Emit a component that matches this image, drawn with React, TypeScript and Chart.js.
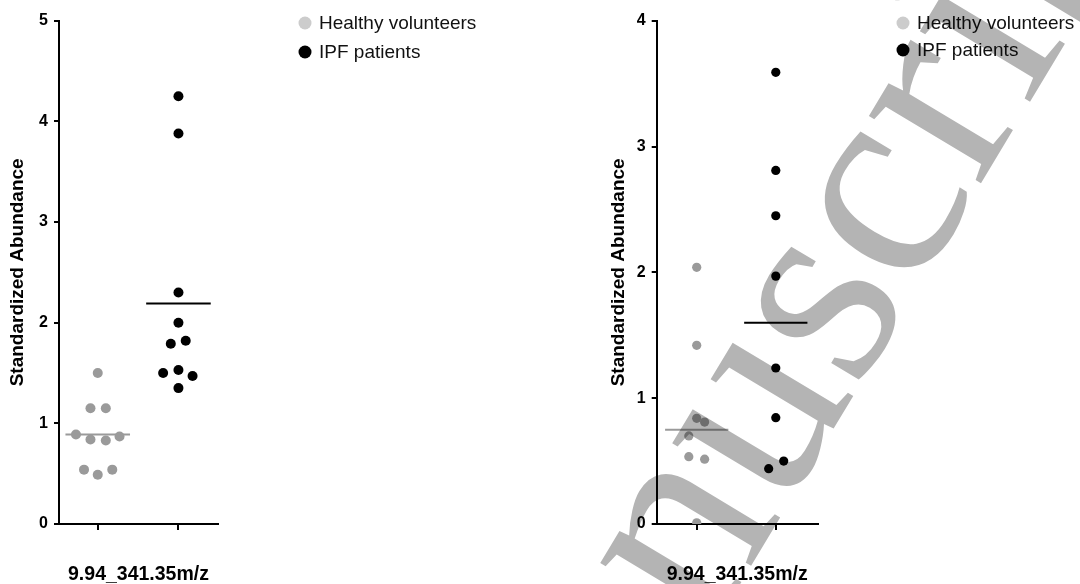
import React, { useEffect, useRef } from "react";
import { Chart, registerables } from "chart.js";
Chart.register(...registerables);

// ---------- data ----------
const groupLabels = ["Healthy volunteers", "IPF patients"];
const xAxisTitle = "9.94_341.35m/z";
const yAxisTitle = "Standardized Abundance";
const watermarkText = "Accepted Manuscript";

// left panel
const leftYMax = 5;
const leftHealthy = [1.5, 1.15, 1.15, 0.89, 0.84, 0.83, 0.87, 0.54, 0.49, 0.54];
const leftHealthyJitter = [0, -0.09, 0.1, -0.27, -0.09, 0.1, 0.27, -0.17, 0, 0.18];
const leftIPF = [4.25, 3.88, 2.3, 2.0, 1.79, 1.82, 1.5, 1.53, 1.47, 1.35];
const leftIPFJitter = [0, 0, 0, 0, -0.095, 0.09, -0.19, 0, 0.175, 0];
const leftMeans = [0.89, 2.19];

// right panel
const rightYMax = 4;
const rightHealthy = [2.04, 1.42, 0.84, 0.81, 0.7, 0.535, 0.515, 0.01];
const rightHealthyJitter = [0, 0, 0, 0.1, -0.1, -0.1, 0.1, 0];
const rightIPF = [3.59, 2.81, 2.45, 1.97, 1.24, 0.845, 0.44, 0.5];
const rightIPFJitter = [0, 0, 0, 0, 0, 0, -0.09, 0.1];
const rightMeans = [0.75, 1.6];

const FONT = '"Liberation Sans", Arial, sans-serif';
const healthyColor = "#9a9a9a";
const healthyLegendColor = "#cccccc";
const ipfColor = "#000000";

type Panel = {
  yMax: number;
  healthy: number[];
  healthyJitter: number[];
  ipf: number[];
  ipfJitter: number[];
  means: number[];
  xMin: number;
  xMax: number;
  padLeft: number;
  padRight: number;
  titlePad: number;
  pointRadius: number;
  legendX: number;
  legendY: number[];
  watermark: boolean;
};

function buildChart(canvas: HTMLCanvasElement, p: Panel) {
  const pts = (vals: number[], jit: number[], g: number) =>
    vals.map((v, i) => ({ x: g + jit[i], y: v }));
  const meanLine = (m: number, g: number) => [
    { x: g - 0.4, y: m },
    { x: g + 0.4, y: m },
  ];

  const overlay = {
    id: "overlay",
    afterDraw(chart: any) {
      const ctx = chart.ctx as CanvasRenderingContext2D;
      ctx.save();
      // legend
      const colors = [healthyLegendColor, ipfColor];
      ctx.font = `19px ${FONT}`;
      ctx.textBaseline = "middle";
      ctx.textAlign = "left";
      groupLabels.forEach((lab, i) => {
        ctx.beginPath();
        ctx.fillStyle = colors[i];
        ctx.arc(p.legendX, p.legendY[i], 6.5, 0, Math.PI * 2);
        ctx.fill();
        ctx.fillStyle = "#111";
        ctx.fillText(lab, p.legendX + 14, p.legendY[i] + 1);
      });
      ctx.restore();
      if (p.watermark) {
        ctx.save();
        ctx.globalCompositeOperation = "multiply";
        ctx.fillStyle = "#b4b4b4";
        ctx.font = `285px "Liberation Serif", "DejaVu Serif", serif`;
        ctx.textBaseline = "alphabetic";
        const w0 = ctx.measureText("Accepted Ma").width;
        ctx.translate(709 - 540, 636);
        ctx.rotate((-59 * Math.PI) / 180);
        ctx.fillText(watermarkText, -w0, 0);
        ctx.restore();
      }
    },
  };

  return new Chart(canvas, {
    type: "scatter",
    data: {
      datasets: [
        {
          label: groupLabels[0],
          data: pts(p.healthy, p.healthyJitter, 1),
          backgroundColor: healthyColor,
          borderColor: healthyColor,
          pointRadius: p.pointRadius,
          pointBorderWidth: 0,
          pointHoverRadius: p.pointRadius,
        },
        {
          label: groupLabels[1],
          data: pts(p.ipf, p.ipfJitter, 2),
          backgroundColor: ipfColor,
          borderColor: ipfColor,
          pointRadius: p.pointRadius,
          pointBorderWidth: 0,
          pointHoverRadius: p.pointRadius,
        },
        {
          type: "line",
          label: "mean healthy",
          data: meanLine(p.means[0], 1),
          borderColor: healthyColor,
          borderWidth: 2,
          pointRadius: 0,
          showLine: true,
          fill: false,
        } as any,
        {
          type: "line",
          label: "mean ipf",
          data: meanLine(p.means[1], 2),
          borderColor: ipfColor,
          borderWidth: 2,
          pointRadius: 0,
          showLine: true,
          fill: false,
        } as any,
      ],
    },
    options: {
      animation: false,
      responsive: false,
      events: [],
      layout: { padding: { left: p.padLeft, right: p.padRight, top: 20.7, bottom: 0 } },
      plugins: { legend: { display: false }, tooltip: { enabled: false } },
      scales: {
        x: {
          type: "linear",
          min: p.xMin,
          max: p.xMax,
          afterBuildTicks: (s: any) => {
            s.ticks = [{ value: 1 }, { value: 2 }];
          },
          afterFit: (s: any) => {
            s.height = 60;
          },
          ticks: { display: false },
          grid: { drawOnChartArea: false, drawTicks: true, tickLength: 6, color: "#000", lineWidth: 2 },
          border: { display: true, color: "#000", width: 2 },
          title: {
            display: true,
            text: xAxisTitle,
            color: "#000",
            font: { family: FONT, size: 19.5, weight: "bold", lineHeight: 1 },
            padding: { top: 0, bottom: 0 },
          },
        },
        y: {
          type: "linear",
          min: 0,
          max: p.yMax,
          afterFit: (s: any) => {
            s.width = 59;
          },
          ticks: { stepSize: 1, color: "#000", font: { family: FONT, size: 16, weight: "bold" }, padding: 6 },
          grid: { drawOnChartArea: false, drawTicks: true, tickLength: 5, color: "#000", lineWidth: 2 },
          border: { display: true, color: "#000", width: 2 },
          title: {
            display: true,
            text: yAxisTitle,
            color: "#000",
            font: { family: FONT, size: 19, weight: "bold", lineHeight: 1 },
            padding: { top: p.titlePad, bottom: 0 },
          },
        },
      },
    },
    plugins: [overlay],
  } as any);
}

const leftPanel: Panel = {
  yMax: leftYMax,
  healthy: leftHealthy,
  healthyJitter: leftHealthyJitter,
  ipf: leftIPF,
  ipfJitter: leftIPFJitter,
  means: leftMeans,
  xMin: 0.52,
  xMax: 2.49,
  padLeft: 0,
  padRight: 322,
  titlePad: 8,
  pointRadius: 5,
  legendX: 305,
  legendY: [23, 52],
  watermark: false,
};

const rightPanel: Panel = {
  yMax: rightYMax,
  healthy: rightHealthy,
  healthyJitter: rightHealthyJitter,
  ipf: rightIPF,
  ipfJitter: rightIPFJitter,
  means: rightMeans,
  xMin: 0.494,
  xMax: 2.53,
  padLeft: 57.7,
  padRight: 262.3,
  titlePad: 12,
  pointRadius: 4.6,
  legendX: 363,
  legendY: [23, 50],
  watermark: true,
};

export default function App() {
  const leftRef = useRef<HTMLCanvasElement>(null);
  const rightRef = useRef<HTMLCanvasElement>(null);
  useEffect(() => {
    const a = buildChart(leftRef.current!, leftPanel);
    const b = buildChart(rightRef.current!, rightPanel);
    return () => {
      a.destroy();
      b.destroy();
    };
  }, []);
  return (
    <div style={{ position: "absolute", left: 0, top: 0, width: 1080, height: 584, background: "#fff", overflow: "hidden" }}>
      <canvas ref={leftRef} width={540} height={584} style={{ position: "absolute", left: 0, top: 0, width: 540, height: 584 }} />
      <canvas ref={rightRef} width={540} height={584} style={{ position: "absolute", left: 540, top: 0, width: 540, height: 584 }} />
    </div>
  );
}
